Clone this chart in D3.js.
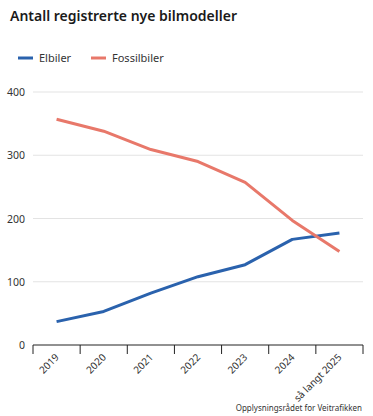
<!DOCTYPE html>
<html>
<head>
<meta charset="utf-8">
<script src="https://cdn.jsdelivr.net/npm/d3@7"></script>
<style>
  body { margin: 0; background: #fff; font-family: "Noto Sans", sans-serif; }
</style>
</head>
<body>
<div id="chart"></div>
<script>
"use strict";

var years = ['2019', '2020', '2021', '2022', '2023', '2024', 'så langt 2025'];
var elbiler = [37, 53, 82, 108, 127, 167, 177];
var fossilbiler = [357, 338, 309, 290, 257, 197, 148];
var yTicks = [0, 100, 200, 300, 400];

var W = 373, H = 416;
var mLeft = 33, mRight = 363, mTop = 92, mBottom = 345;

var svg = d3.select('#chart').append('svg').attr('width', W).attr('height', H);

svg.append('text').attr('x', 10).attr('y', 21)
  .style('font-size', '14px').style('font-weight', 600).style('fill', '#1a1a1a')
  .text('Antall registrerte nye bilmodeller');

var legend = [['Elbiler', '#2a62ad', 18], ['Fossilbiler', '#e8786a', 91]];
legend.forEach(function (d) {
  svg.append('line').attr('x1', d[2]).attr('x2', d[2] + 15).attr('y1', 58).attr('y2', 58)
    .style('stroke', d[1]).style('stroke-width', 3);
  svg.append('text').attr('x', d[2] + 21).attr('y', 62)
    .style('font-size', '11px').style('fill', '#333').text(d[0]);
});

var x = d3.scaleBand().domain(years).range([mLeft, mRight]);
var y = d3.scaleLinear().domain([0, 400]).range([mBottom, mTop]);

svg.append('g').selectAll('line').data(yTicks.slice(1)).enter().append('line')
  .attr('x1', mLeft).attr('x2', mRight)
  .attr('y1', function (d) { return y(d); }).attr('y2', function (d) { return y(d); })
  .style('stroke', '#e3e3e3').style('stroke-width', 1);

svg.append('g').selectAll('text').data(yTicks).enter().append('text')
  .attr('x', 25).attr('y', function (d) { return y(d) + 4; })
  .attr('text-anchor', 'end').style('font-size', '10.5px').style('fill', '#333')
  .text(function (d) { return d; });

// x axis with ticks at band edges
var edges = years.map(function (d) { return x(d); }).concat([mRight]);
var xg = svg.append('g');
xg.append('line').attr('x1', mLeft).attr('x2', mRight).attr('y1', mBottom).attr('y2', mBottom)
  .style('stroke', '#222').style('stroke-width', 1);
xg.selectAll('.tick').data(edges).enter().append('line')
  .attr('x1', function (d) { return d; }).attr('x2', function (d) { return d; })
  .attr('y1', mBottom).attr('y2', mBottom + 9)
  .style('stroke', '#222').style('stroke-width', 1);
xg.selectAll('text').data(years).enter().append('text')
  .attr('transform', function (d) {
    return 'translate(' + (x(d) + x.bandwidth() / 2 + 3) + ',' + (mBottom + 13) + ') rotate(-45)';
  })
  .attr('text-anchor', 'end').style('font-size', '10px').style('fill', '#333')
  .text(function (d) { return d; });

var line = d3.line()
  .x(function (d, i) { return x(years[i]) + x.bandwidth() / 2; })
  .y(function (d) { return y(d); });

svg.append('path').datum(elbiler).attr('d', line)
  .style('fill', 'none').style('stroke', '#2a62ad').style('stroke-width', 3)
  .style('stroke-linejoin', 'round');
svg.append('path').datum(fossilbiler).attr('d', line)
  .style('fill', 'none').style('stroke', '#e8786a').style('stroke-width', 3)
  .style('stroke-linejoin', 'round');

svg.append('text').attr('x', 362).attr('y', 411).attr('text-anchor', 'end')
  .style('font-size', '8px').style('fill', '#333')
  .text('Opplysningsrådet for Veitrafikken');
</script>
</body>
</html>
